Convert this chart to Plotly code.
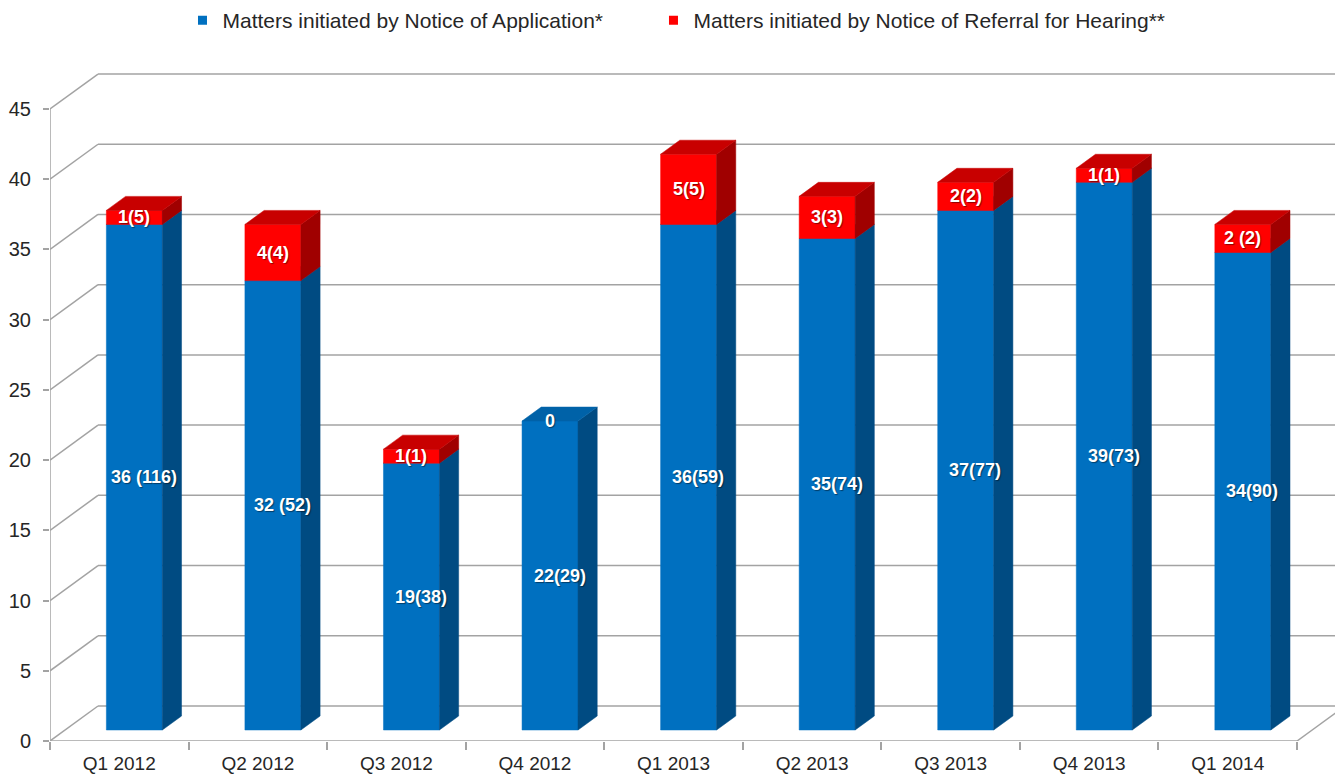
import plotly.graph_objects as go

# ---------------- data ----------------
categories = ["Q1 2012", "Q2 2012", "Q3 2012", "Q4 2012", "Q1 2013",
              "Q2 2013", "Q3 2013", "Q4 2013", "Q1 2014"]
application = [36, 32, 19, 22, 36, 35, 37, 39, 34]
referral = [1, 4, 1, 0, 5, 3, 2, 1, 2]
application_labels = ["36 (116)", "32 (52)", "19(38)", "22(29)", "36(59)",
                      "35(74)", "37(77)", "39(73)", "34(90)"]
referral_labels = ["1(5)", "4(4)", "1(1)", "0", "5(5)", "3(3)", "2(2)", "1(1)", "2 (2)"]
y_ticks = [0, 5, 10, 15, 20, 25, 30, 35, 40, 45]
series_names = ["Matters initiated by Notice of Application*",
                "Matters initiated by Notice of Referral for Hearing**"]

# ---------------- style / 3D geometry ----------------
FONT = "Liberation Sans, Arial, sans-serif"
DEPTH_X = 0.3464   # full depth of the floor, category units
DEPTH_Y = 2.492    # full depth of the floor, value units
BAR_W = 0.404      # bar width, category units
F0, F1 = 0.314, 0.714  # bar front / back position within the depth
GRID = "#a3a3a3"
COLORS = {
    "app": ("#0070C0", "#004B82", "#0062A8"),   # front, side, top
    "ref": ("#FF0000", "#A00000", "#C80000"),
}

n = len(categories)
fig = go.Figure()


def face(xs, ys, color):
    fig.add_trace(go.Scatter(
        x=xs + [xs[0]], y=ys + [ys[0]], mode="lines", fill="toself",
        fillcolor=color, line=dict(color=color, width=0.5),
        hoverinfo="skip", showlegend=False))


ddx = (F1 - F0) * DEPTH_X
ddy = (F1 - F0) * DEPTH_Y


def box(i, base, value, colors):
    front, side, top = colors
    xc = i + 0.5
    L = xc - BAR_W / 2 + F0 * DEPTH_X
    R = L + BAR_W
    yb = base + F0 * DEPTH_Y
    yt = base + value + F0 * DEPTH_Y
    if value > 0:
        face([L, R, R, L], [yb, yb, yt, yt], front)
        face([R, R + ddx, R + ddx, R], [yb, yb + ddy, yt + ddy, yt], side)
    face([L, R, R + ddx, L + ddx], [yt, yt, yt + ddy, yt + ddy], top)


LABEL_FONT = dict(family=FONT, size=18, color="white", weight="bold",
                  shadow="1px 1px 1px rgba(0,0,0,0.45)")
annotations = []
for i in range(n):
    a, r = application[i], referral[i]
    box(i, 0, a, COLORS["app"])
    if r > 0:
        box(i, a, r, COLORS["ref"])
    xc = i + 0.5 + F0 * DEPTH_X
    annotations.append(dict(x=xc + ddx / 2, y=a / 2 + F0 * DEPTH_Y, text=application_labels[i],
                            showarrow=False, font=LABEL_FONT))
    annotations.append(dict(x=xc, y=a + r / 2 + F0 * DEPTH_Y, text=referral_labels[i],
                            showarrow=False, font=LABEL_FONT))

# legend entries, one legend each so they can be placed like the reference
for name, key, lg in zip(series_names, ["app", "ref"], ["legend", "legend2"]):
    fig.add_trace(go.Scatter(
        x=[None], y=[None], mode="markers", name=name, legend=lg,
        marker=dict(symbol="square", size=9, color=COLORS[key][0])))

# walls / grid (computed from tick values and depth)
shapes = []
x_end = n + DEPTH_X
for t in y_ticks:
    shapes.append(dict(type="line", x0=DEPTH_X, y0=t + DEPTH_Y, x1=x_end + 1, y1=t + DEPTH_Y,
                       line=dict(color=GRID, width=1.5), layer="below"))
    shapes.append(dict(type="line", x0=0, y0=t, x1=DEPTH_X, y1=t + DEPTH_Y,
                       line=dict(color=GRID, width=1.5), layer="below"))
shapes.append(dict(type="line", x0=0, y0=0, x1=n, y1=0, line=dict(color=GRID, width=1.5), layer="below"))
shapes.append(dict(type="line", x0=n, y0=0, x1=n + DEPTH_X, y1=DEPTH_Y,
                   line=dict(color=GRID, width=1.5), layer="below"))
shapes.append(dict(type="line", x0=0, y0=0, x1=0, y1=y_ticks[-1],
                   line=dict(color=GRID, width=1.5), layer="below"))

legend_common = dict(orientation="h", xref="container", yref="container",
                     xanchor="left", y=1.0, yanchor="top",
                     font=dict(family=FONT, size=21, color="#262626"),
                     itemwidth=30, bgcolor="rgba(0,0,0,0)")

fig.update_layout(
    width=1335, height=775,
    margin=dict(l=50, r=0, t=60, b=34, pad=0, autoexpand=False),
    paper_bgcolor="white", plot_bgcolor="white",
    font=dict(family=FONT, color="#262626"),
    shapes=shapes, annotations=annotations,
    showlegend=True,
    legend=dict(x=0.1367, **legend_common),
    legend2=dict(x=0.4895, **legend_common),
    xaxis=dict(range=[0, 9.274], tickvals=[i + 0.5 for i in range(n)], ticktext=categories,
               ticks="outside", ticklen=5, tickcolor="rgba(0,0,0,0)",
               showgrid=False, zeroline=False, showline=False, automargin=False,
               tickfont=dict(family=FONT, size=19, color="#262626"),
               minor=dict(tick0=0, dtick=1, ticks="outside", ticklen=8,
                          tickcolor=GRID, tickwidth=1.5, showgrid=False),
               fixedrange=True),
    yaxis=dict(range=[0, 48.49], tickvals=y_ticks, ticks="outside", ticklen=6,
               tickcolor=GRID, tickwidth=1.5, ticklabelstandoff=8,
               showgrid=False, zeroline=False, showline=False, automargin=False,
               tickfont=dict(family=FONT, size=20, color="#262626"),
               fixedrange=True),
)

fig.write_html("out.html", config={"displayModeBar": False},
               post_script="document.body.style.margin='0';")
